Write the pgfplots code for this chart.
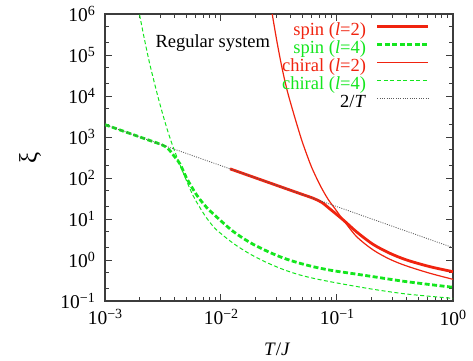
\documentclass[border=0pt]{standalone}
\usepackage{fontspec}
\setmainfont{Liberation Serif}
\usepackage{pgfplots}
\pgfplotsset{compat=1.18}
\definecolor{cred}{RGB}{240,35,15}
\definecolor{cgreen}{RGB}{20,230,30}
\definecolor{caxis}{RGB}{60,60,60}
\definecolor{cdot}{RGB}{90,90,90}
\newcommand{\sups}[1]{\raisebox{6pt}{\fontsize{14}{14}\selectfont #1}}
\newcommand{\tl}[1]{10\sups{#1}}
\begin{document}
\begin{tikzpicture}
\begin{axis}[
  at={(0,0)}, anchor=south west,
  scale only axis, width=348pt, height=287pt,
  xmode=log, ymode=log,
  xmin=1e-3, xmax=1, ymin=1e-1, ymax=1e6,
  xtick={1e-3,1e-2,1e-1,1},
  xticklabels={\tl{−3},\tl{−2},\tl{−1},\tl{0}},
  ytick={1e-1,1,10,100,1000,1e4,1e5,1e6},
  yticklabels={\tl{−1},\tl{0},\tl{1},\tl{2},\tl{3},\tl{4},\tl{5},\tl{6}},
  minor xtick={2e-3,3e-3,4e-3,5e-3,6e-3,7e-3,8e-3,9e-3,0.02,0.03,0.04,0.05,0.06,0.07,0.08,0.09,0.2,0.3,0.4,0.5,0.6,0.7,0.8,0.9},
  minor ytick={0.2,0.5,2,5,20,50,200,500,2000,5000,2e4,5e4,2e5,5e5},
  major tick length=7pt, minor tick length=4pt,
  tick align=inside,
  tick style={color=caxis, line width=1pt},
  axis line style={color=caxis, line width=1.6pt},
  tick label style={font=\fontsize{19.5}{19.5}\selectfont},
  xticklabel style={anchor=north, inner sep=0pt, yshift=-8.5pt},
  yticklabel style={anchor=east, inner sep=0pt, xshift=-10pt},
  xlabel={\textit{T}/\textit{J}},
  ylabel={ξ},
  every axis x label/.style={at={(axis description cs:0.495,-0.17)}, anchor=center, font=\fontsize{19}{19}\selectfont},
  every axis y label/.style={at={(axis description cs:-0.2155,0.5)}, anchor=center, font=\fontsize{25}{25}\selectfont},
  ylabel style={rotate=90},
  legend style={draw=none, fill=none, at={(axis description cs:0.9425,0.977)}, anchor=north east,
    row sep=0pt, column sep=10pt, font=\fontsize{18.5}{18.5}\selectfont,
    nodes={inner sep=0pt, text height=13pt, text depth=5pt}},
  legend cell align=right,
  legend plot pos=right,
  legend image code/.code={\draw[#1] (0pt,5.5pt) -- (51pt,5.5pt);},
]
% spin (l=2)
\addplot[color=cred, line width=2.8pt, smooth] coordinates {
(0.01197,167.1) (0.02,100) (0.035,57.1) (0.05,40) (0.0625,32.0) (0.0738,25.5)
(0.0871,17.5) (0.1133,9.46) (0.1479,4.82) (0.2056,2.39) (0.2862,1.456)
(0.399,1.0) (0.6339,0.687) (1,0.519)};
\addlegendentry{\textcolor{cred}{spin (\textit{l}=2)}}
% spin (l=4)
\addplot[color=cgreen, line width=2.8pt, dash pattern=on 5pt off 2.5pt, smooth] coordinates {
(0.001,2000) (0.001754,1140) (0.002443,818.6) (0.003083,648.7) (0.003492,524.5)
(0.003879,364) (0.004431,219.5) (0.005061,98.4) (0.006173,38.5) (0.007525,19.1)
(0.0098,9.46) (0.01276,4.96) (0.01778,2.67) (0.02477,1.658) (0.03444,1.119)
(0.04797,0.831) (0.06683,0.656) (0.09292,0.548) (0.1294,0.477) (0.2056,0.392)
(0.399,0.296) (1,0.216)};
\addlegendentry{\textcolor{cgreen}{spin (\textit{l}=4)}}
% chiral (l=2)
\addplot[color=cred, line width=1.2pt, smooth] coordinates {
(0.02642,2.07e6) (0.02753,1.06e6) (0.03041,2.07e5) (0.03359,48170) (0.0371,14000)
(0.04097,5097) (0.04525,1963) (0.04993,798) (0.05508,364) (0.06085,175)
(0.07131,67.5) (0.08356,30.7) (0.0979,16.6) (0.1133,9.46) (0.1479,3.70)
(0.2056,1.75) (0.2862,1.04) (0.399,0.714) (0.6339,0.474) (1,0.338)};
\addlegendentry{\textcolor{cred}{chiral (\textit{l}=2)}}
% chiral (l=4)
\addplot[color=cgreen, line width=1pt, dash pattern=on 4pt off 2.5pt, smooth] coordinates {
(0.001888,1.96e6) (0.001976,1.04e6) (0.002168,2.75e5) (0.002443,57050) (0.00288,8939)
(0.00329,2321) (0.003633,945) (0.004012,431) (0.004732,132.4) (0.005769,36.4)
(0.007037,14.0) (0.008039,8.22) (0.009182,5.39) (0.01276,2.55) (0.01778,1.40)
(0.02477,0.869) (0.03444,0.587) (0.04797,0.431) (0.06683,0.344) (0.1061,0.267)
(0.2056,0.193) (0.399,0.148) (1,0.116)};
\addlegendentry{\textcolor{cgreen}{chiral (\textit{l}=4)}}
% 2/T
\addplot[color=cdot, line width=0.8pt, dash pattern=on 1pt off 1.3pt] coordinates {
(0.001,2000) (1,2)};
\addlegendentry{2/\textit{T}}
\node[anchor=base west, font=\fontsize{18.5}{18.5}\selectfont] at (axis description cs:0.135,0.885) {Regular system};
\end{axis}
\pgfresetboundingbox
\useasboundingbox (-105pt,-59pt) rectangle (368pt,301pt);
\end{tikzpicture}
\end{document}
